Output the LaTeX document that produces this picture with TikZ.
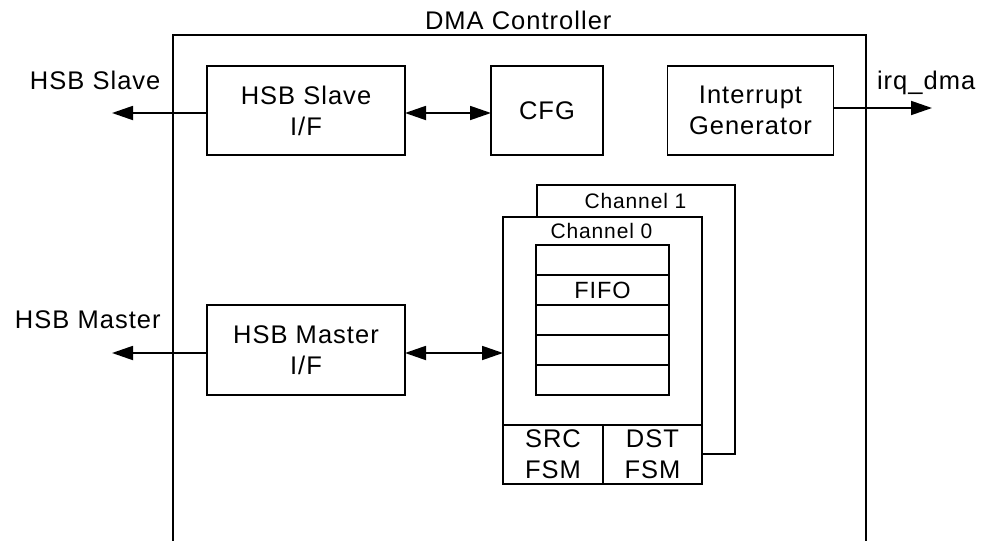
\documentclass[tikz,border=0pt]{standalone}
\usepackage{fontspec}
\setmainfont{Liberation Sans}[LetterSpace=4]
\usetikzlibrary{arrows.meta}
\begin{document}
\begin{tikzpicture}[x=1pt,y=-1pt,
  line width=1.8pt,
  bigfont/.style={font=\fontsize{25.5}{31}\selectfont},
  midfont/.style={font=\fontsize{23.5}{28}\selectfont},
  smallfont/.style={font=\fontsize{21}{26}\selectfont},
  blk/.style={draw, rectangle, inner sep=0pt, outer sep=0pt, align=center, bigfont},
  lbl/.style={inner sep=0pt, outer sep=0pt, anchor=base west, bigfont},
  sig/.style={-{Triangle[length=21pt,width=14pt]}},
  bisig/.style={{Triangle[length=21pt,width=14pt]}-{Triangle[length=21pt,width=14pt]}}
]
\useasboundingbox (0,0) rectangle (986,541);
\clip (0,0) rectangle (986,541);

% outer DMA controller frame (bottom edge lies below the picture)
\draw (173,560) -- (173,35) -- (866,35) -- (866,560);
\node[lbl] (title) at (425,29) {DMA Controller};

% top row blocks
\node[blk, minimum width=198pt, minimum height=89pt] (slave) at (306,110.5) {HSB Slave\\I/F};
\node[blk, minimum width=112pt, minimum height=89pt] (cfg) at (547,110.5) {CFG};
\node[blk, minimum width=166pt, minimum height=89pt] (intgen) at (750.5,110.5) {Interrupt\\Generator};

% master block
\node[blk, minimum width=198pt, minimum height=90pt] (master) at (306,350) {HSB Master\\I/F};

% channels
\node[draw, fill=white, inner sep=0pt, outer sep=0pt, minimum width=198pt, minimum height=269pt] (ch1) at (636,319.5) {};
\node[smallfont, inner sep=0pt] (ch1lbl) at (635.5,201) {Channel 1};
\node[draw, fill=white, inner sep=0pt, outer sep=0pt, minimum width=199pt, minimum height=267pt] (ch0) at (602.5,350.5) {};
\node[smallfont, inner sep=0pt] (ch0lbl) at (601.5,231) {Channel 0};

% FIFO rows
\foreach \i/\yy in {1/260,2/290,3/320,4/350,5/380}{
  \node[draw, inner sep=0pt, outer sep=0pt, minimum width=133pt, minimum height=30pt] (fifo\i) at (602.5,\yy) {};
}
\node[midfont, inner sep=0pt] (fifotxt) at (fifo2) {FIFO};

% FSM cells
\node[blk, minimum width=100pt, minimum height=59pt] (src) at (553,454.5) {SRC\\FSM};
\node[blk, minimum width=99pt, minimum height=59pt] (dst) at (652.5,454.5) {DST\\FSM};

% external labels
\node[lbl] (slavelbl) at (30,89) {HSB Slave};
\node[lbl] (masterlbl) at (15,328) {HSB Master};
\node[lbl] (irqlbl) at (877,89) {irq\_dma};

% connector end points
\coordinate (slaveout) at (112,113);
\coordinate (masterout) at (112,353);
\coordinate (irqout) at (932,108);

% connectors
\draw[sig] (slave.west |- slaveout) -- (slaveout);
\draw[bisig] (slave.east |- slaveout) -- (cfg.west |- slaveout);
\draw[sig] (intgen.east |- irqout) -- (irqout);
\draw[sig] (master.west |- masterout) -- (masterout);
\draw[bisig] (master.east |- masterout) -- (ch0.west |- masterout);
\end{tikzpicture}
\end{document}
